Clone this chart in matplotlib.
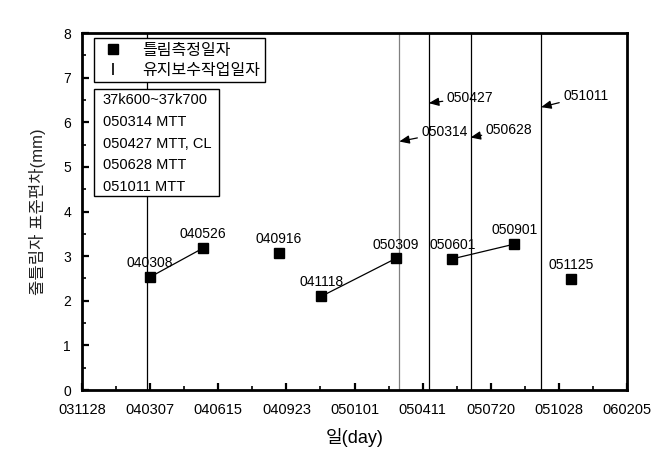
import matplotlib
matplotlib.use('Agg')
import matplotlib.pyplot as plt
from matplotlib.lines import Line2D
from matplotlib.patches import Rectangle
from matplotlib.ticker import MultipleLocator, FixedLocator
import pandas as pd

plt.rcParams['font.family'] = ['Liberation Sans', 'Noto Sans CJK KR', 'DejaVu Sans']

# ---- data ----
meas_dates = ['040308', '040526', '040916', '041118', '050309', '050601', '050901', '051125']
meas_values = [2.53, 3.18, 3.07, 2.10, 2.95, 2.94, 3.27, 2.49]
trend_pairs = [('040308', '040526'), ('041118', '050309'), ('050601', '050901')]

maint_dates = ['040303', '050314', '050427', '050628', '051011']
maint_colors = ['black', 'gray', 'black', 'black', 'black']

arrow_dates = ['050314', '050427', '050628', '051011']
arrow_y = [5.57, 6.43, 5.66, 6.34]
arrow_offsets = [(16, 6.5), (13, 4), (11, 5.5), (16, 8)]

tick_labels = ['031128', '040307', '040615', '040923', '050101',
               '050411', '050720', '051028', '060205']
axis_span_days = 811
info_lines = ['37k600~37k700', '050314 MTT', '050427 MTT, CL', '050628 MTT', '051011 MTT']
legend_labels = ['틀림측정일자', '유지보수작업일자']
xlabel = '일(day)'
ylabel = '줄틀림자 표준편차(mm)'

origin = pd.to_datetime(tick_labels[0], format='%y%m%d')


def d(s):
    return (pd.to_datetime(s, format='%y%m%d') - origin).days


val = dict(zip(meas_dates, meas_values))

fig = plt.figure(figsize=(6.56, 4.66), dpi=100)
ax = fig.add_axes([0.125, 0.163, 0.831, 0.766])

# maintenance vertical lines
for m, c in zip(maint_dates, maint_colors):
    ax.axvline(d(m), color=c, lw=0.9, zorder=1)

# trend segments
for a, b in trend_pairs:
    ax.plot([d(a), d(b)], [val[a], val[b]], color='black', lw=0.9, zorder=2)

# measurement points
ax.plot([d(s) for s in meas_dates], meas_values, ls='none', marker='s',
        ms=7, color='black', zorder=3)

for s, v in zip(meas_dates, meas_values):
    ax.annotate(s, (d(s), v), xytext=(0, 10), textcoords='offset points',
                ha='center', va='center', fontsize=10, zorder=4)

# arrows to maintenance lines
for s, y, off in zip(arrow_dates, arrow_y, arrow_offsets):
    ax.annotate(s, (d(s), y), xytext=off, textcoords='offset points',
                ha='left', va='center', fontsize=10,
                arrowprops=dict(arrowstyle='-|>,head_length=0.6,head_width=0.25',
                                color='black', lw=0.9, shrinkA=1, shrinkB=0))

# axes setup
ax.set_xlim(0, axis_span_days)
ax.set_ylim(0, 8)
n = len(tick_labels) - 1
major_pos = [axis_span_days * i / n for i in range(n + 1)]
minor_pos = [axis_span_days * (i + 0.5) / n for i in range(n)]
ax.xaxis.set_major_locator(FixedLocator(major_pos))
ax.set_xticklabels(tick_labels)
ax.xaxis.set_minor_locator(FixedLocator(minor_pos))
ax.yaxis.set_major_locator(MultipleLocator(1))
ax.yaxis.set_minor_locator(MultipleLocator(0.5))

ax.tick_params(which='both', direction='in', top=False, right=False)
ax.tick_params(which='major', length=5, width=1.6, labelsize=10.5)
ax.tick_params(axis='x', which='major', pad=9)
ax.tick_params(axis='y', which='major', pad=8, labelsize=10)
ax.tick_params(which='minor', length=3, width=1.2)
for sp in ax.spines.values():
    sp.set_linewidth(2)

ax.set_xlabel(xlabel, fontsize=13, labelpad=8)
ax.set_ylabel(ylabel, fontsize=12, labelpad=12, color='#222222')

# legend
handles = [Line2D([], [], ls='none', marker='s', ms=7, color='black'),
           Line2D([], [], ls='none', marker='|', ms=9, mew=1.2, color='black')]
leg = ax.legend(handles, legend_labels, loc='upper left', bbox_to_anchor=(0.0219, 0.986),
                borderaxespad=0, fancybox=False, edgecolor='black', framealpha=1,
                fontsize=11.5, labelspacing=0.3, handlelength=1.8, handletextpad=0.9,
                borderpad=0.3)
leg.get_frame().set_linewidth(1.0)

# info box
ax.add_patch(Rectangle((0.0219, 0.543), 0.23, 0.30, transform=ax.transAxes,
                       facecolor='white', edgecolor='black', lw=1.0, zorder=4))
ys = [0.812, 0.7515, 0.688, 0.630, 0.569]
for t, y in zip(info_lines, ys):
    ax.text(0.0378, y, t, transform=ax.transAxes, ha='left', va='center',
            fontsize=10.5, zorder=5)

fig.savefig('out.png', dpi=100)
